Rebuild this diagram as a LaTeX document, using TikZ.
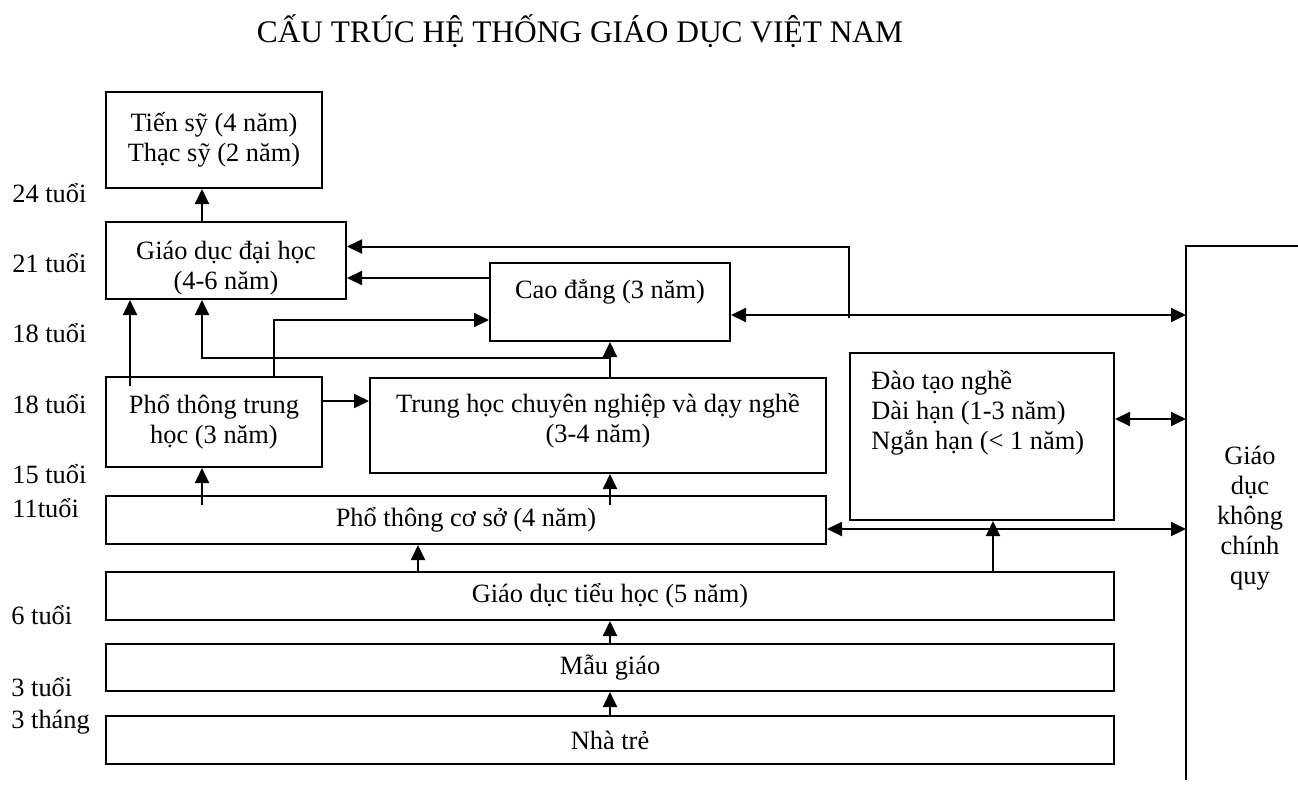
\documentclass[tikz,border=0pt]{standalone}
\usepackage{fontspec}
\setmainfont{Liberation Serif}
\usetikzlibrary{arrows.meta,positioning}

\begin{document}
\begin{tikzpicture}[x=0.5pt, y=-0.5pt,
    % Node styles
    block/.style={draw, line width=1pt, inner sep=0pt, align=center, font=\fontsize{13.2}{15}\selectfont},
    age/.style={anchor=base west, inner sep=0pt, font=\fontsize{13.2}{15}\selectfont},
    plain/.style={inner sep=0pt, align=center, font=\fontsize{13.2}{15}\selectfont},
    frame/.style={line width=1pt},
    arrow/.style={-{Triangle[length=7.5pt,width=7pt]}, line width=1pt},
    dblarrow/.style={{Triangle[length=7.5pt,width=7pt]}-{Triangle[length=7.5pt,width=7pt]}, line width=1pt}
]
\useasboundingbox (0,0) rectangle (1298,793);

% Title
\node[anchor=base, inner sep=0pt, font=\fontsize{15.7}{18}\selectfont] (title) at (580,42) {CẤU TRÚC HỆ THỐNG GIÁO DỤC VIỆT NAM};

% Age labels (left)
\node[age] (a24) at (12,202) {24 tuổi};
\node[age] (a21) at (12,272) {21 tuổi};
\node[age] (a18top) at (12,342) {18 tuổi};
\node[age] (a18) at (12,413) {18 tuổi};
\node[age] (a15) at (12,483) {15 tuổi};
\node[age] (a11) at (12,517) {11tuổi};
\node[age] (a6) at (11,624) {6 tuổi};
\node[age] (a3) at (11,696) {3 tuổi};
\node[age] (a3m) at (11,728) {3 tháng};

% Upper levels
\node[block, minimum width=108pt, minimum height=48pt] (phd) at (214,140) {Tiến sỹ (4 năm)\\Thạc sỹ (2 năm)};
\node[block, minimum width=120pt, minimum height=38.5pt, text height=32pt] (uni) at (226,260.5) {Giáo dục đại học\\(4-6 năm)};
\node[block, minimum width=120pt, minimum height=39pt, text height=10pt, text depth=14pt] (college) at (610,302) {Cao đẳng (3 năm)};

% Secondary levels
\node[block, minimum width=108pt, minimum height=45pt] (pt) at (214,422) {Phổ thông trung\\học (3 năm)};
\node[block, minimum width=228pt, minimum height=47.5pt, text depth=8pt] (tc) at (598,425.5) {Trung học chuyên nghiệp và dạy nghề\\(3-4 năm)};
\node[block, minimum width=132pt, minimum height=83.5pt] (nghe) at (982,436.5) {};
\node[plain, anchor=north west, align=left] (ngheText) at (871,370) {Đào tạo nghề\\Dài hạn (1-3 năm)\\Ngắn hạn (< 1 năm)};

% Lower levels
\node[block, minimum width=360pt, minimum height=24pt] (pcs) at (466,520) {Phổ thông cơ sở (4 năm)};
\node[block, minimum width=504pt, minimum height=24pt] (th) at (610,596) {Giáo dục tiểu học (5 năm)};
\node[block, minimum width=504pt, minimum height=23.5pt] (mg) at (610,667.5) {Mẫu giáo};
\node[block, minimum width=504pt, minimum height=24pt] (nt) at (610,740) {Nhà trẻ};

% Non-formal education (open frame on the right)
\coordinate (kcqtop) at (1186,246);
\coordinate (kcqbot) at (1186,780);
\coordinate (kcqend) at (1298,246);
\draw[frame] (kcqbot) -- (kcqtop) -- (kcqend);
\node[plain] (kcq) at (1250,518) {Giáo\\dục\\không\\chính\\quy};

% Arrows up the ladder
\draw[arrow] (nt.north) -- (mg.south);
\draw[arrow] (mg.north) -- (th.south);
\draw[arrow] ([xshift=-24pt]pcs.south |- th.north) -- ([xshift=-24pt]pcs.south);
\draw[arrow] ([xshift=5.5pt]nghe.south |- th.north) -- ([xshift=5.5pt]nghe.south);
\draw[arrow] ([xshift=-6pt,yshift=-5pt]pt.south |- pcs.north) -- ([xshift=-6pt]pt.south);
\draw[arrow] ([xshift=6pt,yshift=-5pt]tc.south |- pcs.north) -- ([xshift=6pt]tc.south);
\draw[arrow] ([yshift=10.5pt]pt.east) -- ([yshift=10.5pt]pt.east -| tc.west);
\draw[arrow] ([xshift=-42pt,yshift=-5pt]pt.north) -- ([xshift=-42pt]pt.north |- uni.south);
\draw[arrow] ([xshift=30pt]pt.north) |- ([yshift=-9pt]college.west);
\draw[arrow] (college.south |- tc.north) -- (college.south);
\draw[arrow] ([yshift=9.5pt]college.south |- tc.north) -| ([xshift=-12pt]uni.south);
\draw[arrow] ([yshift=12pt]college.west) -- ([yshift=12pt]college.west -| uni.east);
\draw[arrow] ([yshift=-8pt]nghe.north west |- college.east) |- ([yshift=7pt]uni.east);
\draw[arrow] ([xshift=-12pt]uni.north) -- ([xshift=-12pt]uni.north |- phd.south);

% Links to non-formal education
\draw[dblarrow] ([yshift=-6.5pt]college.east) -- ([yshift=-6.5pt]college.east -| kcqtop);
\draw[dblarrow] ([yshift=8.75pt]nghe.east) -- ([yshift=8.75pt]nghe.east -| kcqtop);
\draw[dblarrow] ([yshift=-4.5pt]pcs.east) -- ([yshift=-4.5pt]pcs.east -| kcqtop);

\end{tikzpicture}
\end{document}
